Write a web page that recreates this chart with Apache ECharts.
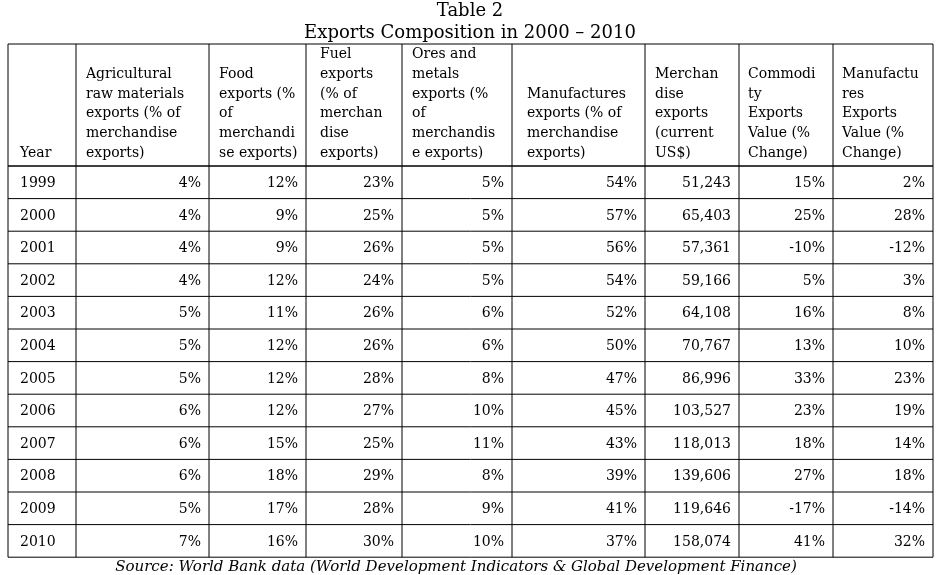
<!DOCTYPE html>
<html><head><meta charset="utf-8">
<script src="https://cdn.jsdelivr.net/npm/echarts@6/dist/echarts.min.js"></script>
<style>html,body{margin:0;padding:0;background:#fff}#c{width:941px;height:575px}</style>
</head><body><div id="c"></div>
<script>
const titleLines = ["Table 2", "Exports Composition in 2000 \u2013 2010"];
const headers = [
  ["Year"],
  ["Agricultural","raw materials","exports (% of","merchandise","exports)"],
  ["Food","exports (%","of","merchandi","se exports)"],
  ["Fuel","exports","(% of","merchan","dise","exports)"],
  ["Ores and","metals","exports (%","of","merchandis","e exports)"],
  ["Manufactures","exports (% of","merchandise","exports)"],
  ["Merchan","dise","exports","(current","US$)"],
  ["Commodi","ty","Exports","Value (%","Change)"],
  ["Manufactu","res","Exports","Value (%","Change)"]
];
const years = ["1999","2000","2001","2002","2003","2004","2005","2006","2007","2008","2009","2010"];
const agri = ["4%","4%","4%","4%","5%","5%","5%","6%","6%","6%","5%","7%"];
const food = ["12%","9%","9%","12%","11%","12%","12%","12%","15%","18%","17%","16%"];
const fuel = ["23%","25%","26%","24%","26%","26%","28%","27%","25%","29%","28%","30%"];
const ores = ["5%","5%","5%","5%","6%","6%","8%","10%","11%","8%","9%","10%"];
const manuf = ["54%","57%","56%","54%","52%","50%","47%","45%","43%","39%","41%","37%"];
const merch = ["51,243","65,403","57,361","59,166","64,108","70,767","86,996","103,527","118,013","139,606","119,646","158,074"];
const commChg = ["15%","25%","-10%","5%","16%","13%","33%","23%","18%","27%","-17%","41%"];
const manufChg = ["2%","28%","-12%","3%","8%","10%","23%","19%","14%","18%","-14%","32%"];
const source = "Source: World Bank data (World Development Indicators & Global Development Finance)";

(function(){
const cols = [years, agri, food, fuel, ores, manuf, merch, commChg, manufChg];
const colX = [8, 76, 209, 306, 402, 512, 645, 739, 833, 933];
const headerPadX = [12, 10, 10, 14, 10, 15, 10, 9, 9];
const tableTop = 44, headBottom = 166, rowH = 32.6, headLineH = 19.7;
const F = "DejaVu Serif, serif";
const g = [];
g.push({type:'text', style:{text:titleLines[0], x:470, y:11, align:'center', verticalAlign:'middle', font:'18px '+F, fill:'#000'}});
g.push({type:'text', style:{text:titleLines[1], x:470, y:33, align:'center', verticalAlign:'middle', font:'18px '+F, fill:'#000'}});
const tableBottom = headBottom + rowH * years.length;
colX.forEach(x => g.push({type:'line', shape:{x1:x, y1:tableTop, x2:x, y2:tableBottom}, style:{stroke:'#000', lineWidth:1}}));
g.push({type:'line', shape:{x1:colX[0], y1:tableTop, x2:colX[9], y2:tableTop}, style:{stroke:'#000', lineWidth:1}});
g.push({type:'line', shape:{x1:colX[0], y1:headBottom, x2:colX[9], y2:headBottom}, style:{stroke:'#000', lineWidth:1.5}});
for (let r = 1; r <= years.length; r++) {
  const y = headBottom + rowH * r;
  g.push({type:'line', shape:{x1:colX[0], y1:y, x2:colX[9], y2:y}, style:{stroke:'#000', lineWidth:1}});
}
headers.forEach((lines, c) => {
  const n = lines.length;
  lines.forEach((t, i) => {
    const y = 153 - (n - 1 - i) * headLineH;
    g.push({type:'text', style:{text:t, x:colX[c] + headerPadX[c], y:y, verticalAlign:'middle', font:'14px '+F, fill:'#000'}});
  });
});
cols.forEach((arr, c) => {
  arr.forEach((v, r) => {
    const y = headBottom + rowH * r + rowH / 2 + 1;
    if (c === 0) g.push({type:'text', style:{text:v, x:colX[0] + 12, y:y, verticalAlign:'middle', font:'14px '+F, fill:'#000'}});
    else g.push({type:'text', style:{text:v, x:colX[c+1] - 8, y:y, align:'right', verticalAlign:'middle', font:'14px '+F, fill:'#000'}});
  });
});
g.push({type:'text', style:{text:source, x:456, y:tableBottom + 10, align:'center', verticalAlign:'middle', font:'italic 15px '+F, fill:'#000'}});

const chart = echarts.init(document.getElementById('c'), null, {renderer:'canvas'});
chart.setOption({backgroundColor:'#fff', animation:false, graphic:{elements:g}});
})();
</script></body></html>
